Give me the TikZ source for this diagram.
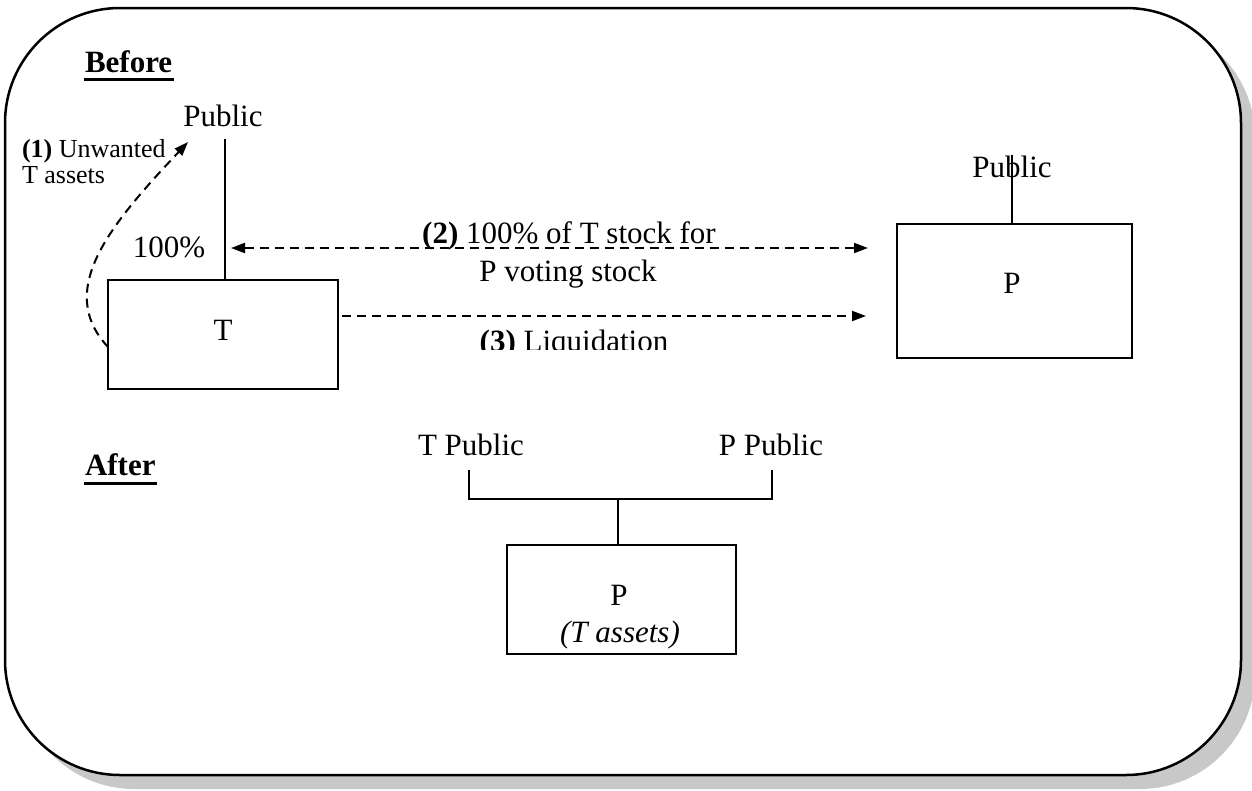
\documentclass[tikz,border=0pt]{standalone}
\usepackage{fontspec}
\setmainfont{Liberation Serif}
\usetikzlibrary{arrows.meta}
\definecolor{shadowgray}{RGB}{200,200,200}
\begin{document}
\begin{tikzpicture}[x=1pt,y=-1pt,
  every node/.style={inner sep=0pt, outer sep=0pt, font=\fontsize{31}{37}\selectfont},
  small/.style={font=\fontsize{26}{31}\selectfont},
  boxnode/.style={draw, line width=2pt},
  conn/.style={line width=2pt},
  dasharrow/.style={line width=2pt, dash pattern=on 9pt off 6pt},
  tip/.style={-{Triangle[length=14pt,width=10pt]}},
  uline/.style={line width=3pt}
]
\useasboundingbox (0,0) rectangle (1252,790);
% frame with shadow
\fill[shadowgray, rounded corners=115pt] (19,22) rectangle (1255,789);
\filldraw[fill=white, line width=2.5pt, rounded corners=115pt] (5,8) rectangle (1241,775);

% Before
\node[anchor=base west, font=\fontsize{31}{37}\selectfont\bfseries] (before) at (85,72) {Before};
\draw[uline] ([yshift=-7pt,xshift=-1pt]before.base west) -- ([yshift=-7pt,xshift=2pt]before.base east);

% T side
\node[anchor=base] (pubT) at (223,126) {Public};
\node[boxnode, minimum width=230pt, minimum height=109pt] (Tbox) at (223,334.5) {};
\node[anchor=base] (Tlbl) at (223,340) {T};
\coordinate (TpubBot) at (225,139);
\draw[conn] (TpubBot) -- (TpubBot |- Tbox.north);
\node[anchor=base] (pct) at (169,257) {100\%};

% (1)
\node[small, anchor=base west] (l1a) at (22,157) {\textbf{(1)} Unwanted};
\node[small, anchor=base west] (l1b) at (22,183) {T assets};
\coordinate (c1e) at (188,142);
\draw[dasharrow, tip] ([yshift=-12.5pt]Tbox.west) .. controls (55,290) and (110,225) .. (c1e);

% P side
\node[boxnode, minimum width=235pt, minimum height=134pt] (Pbox) at (1014.5,291) {};
\node[anchor=base] (Plbl) at (1012,293) {P};
\node[anchor=base] (pubP) at (1012,177) {Public};
\coordinate (PpubTop) at (1012,155);
\draw[conn] (PpubTop) -- (PpubTop |- Pbox.north);

% (2)
\coordinate (a2l) at (231,248);
\coordinate (a2r) at (868,248);
\draw[dasharrow, {Triangle[length=14pt,width=10pt]}-{Triangle[length=14pt,width=10pt]}] (a2l) -- (a2r);
\node[anchor=base] (l2a) at (569,243) {\textbf{(2)} 100\% of T stock for};
\node[anchor=base] (l2b) at (568,281) {P voting stock};

% (3)
\coordinate (a3l) at (342,316);
\coordinate (a3r) at (866,316);
\draw[dasharrow, tip] (a3l) -- (a3r);
\begin{scope}
\clip (400,320) rectangle (760,349.5);
\node[anchor=base] (l3) at (574,351) {\textbf{(3)} Liquidation};
\end{scope}

% After
\node[anchor=base west, font=\fontsize{31}{37}\selectfont\bfseries] (after) at (85,475) {After};
\draw[uline] ([yshift=-8.5pt,xshift=-1pt]after.base west) -- ([yshift=-8.5pt,xshift=1pt]after.base east);

\node[anchor=base] (tpub) at (471,455) {T Public};
\node[anchor=base] (ppub) at (771,455) {P Public};
\node[boxnode, minimum width=229pt, minimum height=109pt] (Pbot) at (621.5,599.5) {};
\node[anchor=base] (Pbotlbl) at (619,605) {P};
\node[anchor=base] (Pbotsub) at (620,642) {\textit{(T assets)}};
\coordinate (bl) at (469,470);
\coordinate (br) at (772,470);
\coordinate (bm) at (618,499);
\draw[conn] (bl) -- (bl |- bm) -- (br |- bm) -- (br);
\draw[conn] (bm) -- (bm |- Pbot.north);
\end{tikzpicture}
\end{document}
